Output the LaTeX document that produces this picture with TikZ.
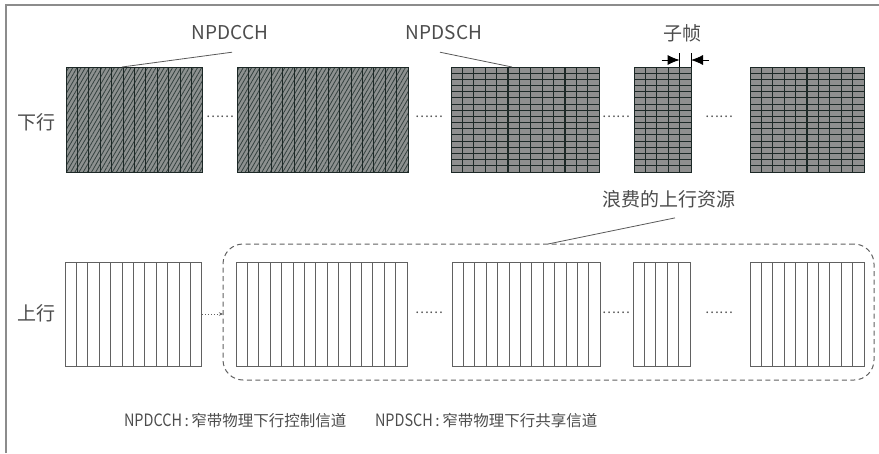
\documentclass[tikz,border=0pt]{standalone}
\usepackage{fontspec}
\setmainfont{Noto Sans CJK SC}
\usetikzlibrary{patterns.meta,arrows.meta,calc}
\definecolor{txt}{gray}{0.3}
\definecolor{framec}{gray}{0.55}
\definecolor{dkfill}{HTML}{8D9190}
\definecolor{hatchc}{HTML}{33403E}
\definecolor{gridfill}{HTML}{8F8F8F}
\definecolor{gridln}{HTML}{1C2826}
\definecolor{upln}{gray}{0.38}
\definecolor{leadc}{gray}{0.35}
\begin{document}
\begin{tikzpicture}[x=1pt,y=-1pt,
  lbl/.style={inner sep=0pt, outer sep=0pt, text=txt, font=\fontsize{19}{21}\selectfont},
  leg/.style={inner sep=0pt, outer sep=0pt, text=txt, font=\fontsize{15.5}{18}\selectfont},
  dotlbl/.style={inner sep=0pt, text=txt, font=\fontsize{13}{15}\selectfont},
  blkbase/.style={inner sep=0pt, outer sep=0pt, anchor=north west},
  hatchblk/.style={blkbase, draw=gridln, line width=0.9pt,
     preaction={fill=dkfill}, pattern={Lines[angle=60,distance=3.6pt,line width=0.8pt]}, pattern color=hatchc},
  gridblk/.style={blkbase, draw=gridln, line width=1pt, fill=gridfill},
  upblk/.style={blkbase, draw=upln, line width=0.9pt, fill=white},
  leader/.style={draw=leadc, line width=0.8pt},
  waste/.style={draw=upln, line width=1pt, dash pattern=on 5pt off 3.5pt, rounded corners=20pt, inner sep=0pt, outer sep=0pt, anchor=north west},
  subarrow/.style={draw=black, line width=0.8pt, -{Latex[length=12pt,width=10pt]}}
]
\useasboundingbox (0,0) rectangle (879,453);
\draw[framec, line width=1.6pt] (6,453) -- (6,5) -- (879,5);

% downlink hatched blocks
\foreach \nm/\x/\n in {B1/66/12, B2/237/15} {
  \node[hatchblk, minimum width=\n*11.4, minimum height=105] (\nm) at (\x,67) {};
  \pgfmathtruncatemacro\m{\n-1}
  \foreach \i in {1,...,\m}
    \draw[gridln, line width=1pt] (\nm.north west) ++(\i*11.4,0) -- ++(0,105);
}
% downlink grid blocks
\foreach \nm/\x/\n in {B3/451/13, B4/634/5, B5/750/10} {
  \node[gridblk, minimum width=\n*11.4, minimum height=105] (\nm) at (\x,67) {};
  \pgfmathtruncatemacro\m{\n-1}
  \foreach \i in {1,...,\m}
    \draw[gridln, line width=1.1pt] (\nm.north west) ++(\i*11.4,0) -- ++(0,105);
  \foreach \j in {1,...,16}
    \draw[gridln, line width=1.1pt] (\nm.north west) ++(0,\j*105/17) -- ++(\n*11.4,0);
}
% uplink blocks
\foreach \nm/\x/\n in {U1/65/12, U2/236/15, U3/452/13, U4/633/5, U5/750/10} {
  \node[upblk, minimum width=\n*11.4, minimum height=104] (\nm) at (\x,262) {};
  \pgfmathtruncatemacro\m{\n-1}
  \foreach \i in {1,...,\m}
    \draw[upln, line width=0.9pt] (\nm.north west) ++(\i*11.4,0) -- ++(0,104);
}

% dashed region
\node[waste, minimum width=651, minimum height=136] (wst) at (223,244) {};

% dots
\node[dotlbl] (d1) at (220,117) {……};
\node[dotlbl] (d2) at (429,117) {……};
\node[dotlbl] (d3) at (616,117) {……};
\node[dotlbl] (d4) at (719,117) {……};
\node[dotlbl] (e2) at (429,313) {……};
\node[dotlbl] (e3) at (616,313) {……};
\node[dotlbl] (e4) at (719,313) {……};

% dotted arrow into region
\draw[upln, line width=0.9pt, dash pattern=on 1pt off 2pt, -{Stealth[length=4pt,width=3.5pt]}]
  (U1.east) -- (U1.east -| wst.west);

% labels
\node[lbl] (dl) at (36,122) {下行};
\node[lbl] (ul) at (36,313) {上行};
\node[lbl] (l1) at (230,33) {NPDCCH};
\node[lbl] (l2) at (444,33) {NPDSCH};
\node[lbl] (l3) at (682,33) {子帧};
\node[lbl] (l4) at (669,199) {浪费的上行资源};

% leaders
\coordinate (p1) at ($(B1.north west)+(56,0)$);
\coordinate (p2) at ($(B3.north west)+(61,0)$);
\coordinate (p3) at ($(wst.north west)+(325,0)$);
\draw[leader] ([xshift=2pt,yshift=-12pt]l1.south) -- (p1);
\draw[leader] ([xshift=-4pt,yshift=-12pt]l2.south) -- (p2);
\draw[leader] ([xshift=6pt,yshift=-10pt]l4.south) -- (p3);

% subframe marker
\coordinate (t1) at ($(B4.north west)+(4*11.4,0)$);
\coordinate (t2) at (B4.north east);
\draw[black, line width=0.8pt] (t1) -- ++(0,-14);
\draw[black, line width=0.8pt] (t2) -- ++(0,-14);
\coordinate (a1) at ($(t1)+(-18,-7)$);
\coordinate (a1e) at ($(t1)+(0,-7)$);
\coordinate (a2) at ($(t2)+(18,-7)$);
\coordinate (a2e) at ($(t2)+(0,-7)$);
\draw[subarrow] (a1) -- (a1e);
\draw[subarrow] (a2) -- (a2e);

% legend
\node[leg, anchor=west] (g1) at (124,421) {{\fontsize{17}{18}\selectfont\scalebox{0.85}[1]{NPDCCH}}\,:\,窄带物理下行控制信道};
\node[leg, anchor=west] (g2) at (375,421) {{\fontsize{17}{18}\selectfont\scalebox{0.85}[1]{NPDSCH}}\,:\,窄带物理下行共享信道};
\end{tikzpicture}
\end{document}
